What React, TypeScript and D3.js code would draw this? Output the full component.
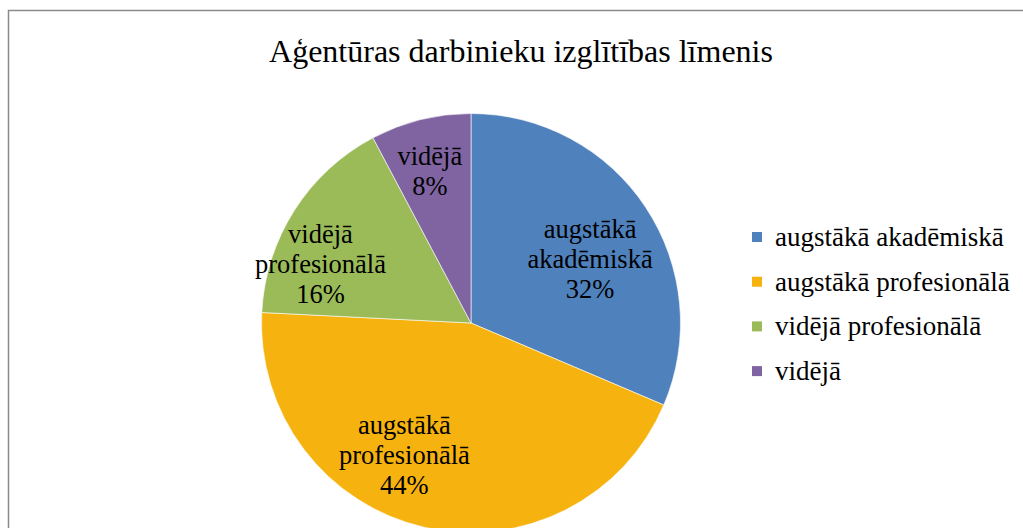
import React from "react";
import * as d3 from "d3";

const title = "Aģentūras darbinieku izglītības līmenis";
const categories = ["augstākā akadēmiskā", "augstākā profesionālā", "vidējā profesionālā", "vidējā"];
const shares = [31.4, 44.4, 16.45, 7.75];
const percentLabels = ["32%", "44%", "16%", "8%"];
const labelLines = [["augstākā", "akadēmiskā"], ["augstākā", "profesionālā"], ["vidējā", "profesionālā"], ["vidējā"]];
const colors = ["#4F81BD", "#F6B20F", "#9BBB59", "#8064A2"];
const labelOffsets: [number, number][] = [[-6, 19], [-33, -14], [-24, 22], [-5, -6]];

export default function App() {
  const W = 1023, H = 528;
  const cx = 471, cy = 323, R = 209.5;
  const fontStyle = { fontFamily: '"Liberation Serif", "Times New Roman", Times, serif' };
  const pie = d3.pie<number>().sort(null).value((d) => d);
  const arcs = pie(shares);
  const arc = d3.arc<d3.PieArcDatum<number>>().innerRadius(0).outerRadius(R);
  const labelArc = d3.arc<d3.PieArcDatum<number>>().innerRadius(300).outerRadius(300);
  const lh = 30;
  const fs = 26.5;
  return (
    <svg width={W} height={H} style={{ position: "absolute", left: 0, top: 0, background: "#fff" }}>
      <rect x={8.5} y={10.5} width={1100} height={600} fill="#fff" stroke="#8a8a8a" strokeWidth={1.5} />
      <text x={521} y={62} textAnchor="middle" style={fontStyle} fontSize={32} fill="#000">{title}</text>
      <g transform={`translate(${cx},${cy})`}>
        {arcs.map((a, i) => (
          <path key={i} d={arc(a) || ""} fill={colors[i]} stroke="#fff" strokeWidth={0.6} />
        ))}
        {arcs.map((a, i) => {
          const [x, y] = labelArc.centroid(a);
          const px = x / 2 + labelOffsets[i][0];
          const py = y / 2 + labelOffsets[i][1];
          const lines = [...labelLines[i], percentLabels[i]];
          const n = lines.length;
          return (
            <text key={i} textAnchor="middle" style={fontStyle} fontSize={fs} fill="#000">
              {lines.map((l, j) => (
                <tspan key={j} x={px} y={py + (j - (n - 1) / 2) * lh + 9}>{l}</tspan>
              ))}
            </text>
          );
        })}
      </g>
      <g>
        {categories.map((c, i) => (
          <g key={i} transform={`translate(752,${237 + i * 44.7})`}>
            <rect x={0} y={-5} width={10} height={10} fill={colors[i]} />
            <text x={23} y={9} style={fontStyle} fontSize={27} fill="#000">{c}</text>
          </g>
        ))}
      </g>
    </svg>
  );
}
